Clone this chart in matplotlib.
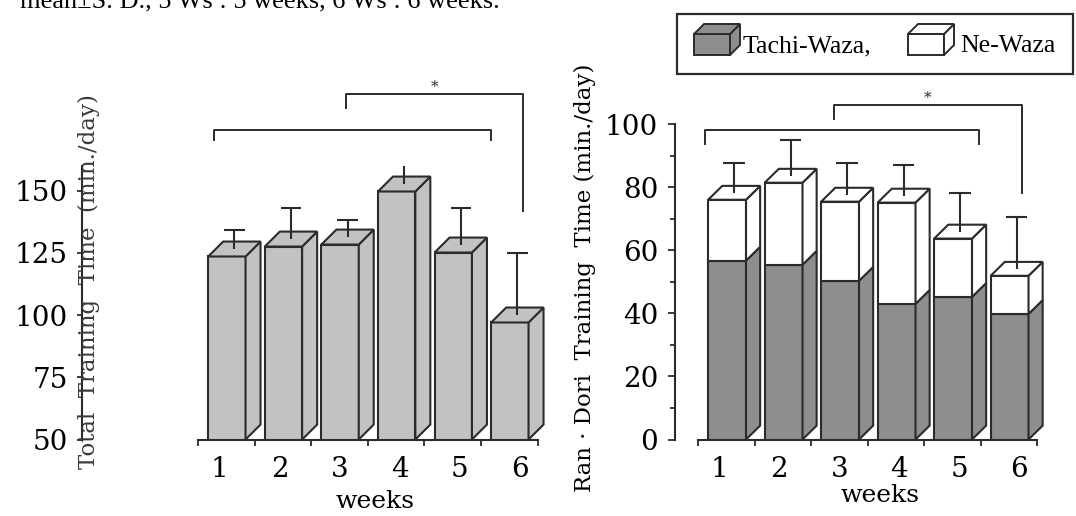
import numpy as np
import matplotlib.pyplot as plt
from matplotlib.patches import Polygon, Rectangle

weeks = ['1', '2', '3', '4', '5', '6']
total_mean = [123.5, 127.5, 128.3, 149.6, 125.1, 97.0]
total_sd = [10.8, 15.3, 9.7, 18.4, 17.9, 28.0]
tachi_waza = [56.7, 55.4, 50.3, 43.0, 45.2, 39.8]
ne_waza = [19.3, 26.0, 25.1, 32.1, 18.5, 12.1]
randori_sd = [11.5, 13.7, 12.1, 12.0, 14.5, 18.7]

EDGE = '#2b2b2b'
LIGHT = '#c2c2c2'
DARK = '#8e8e8e'
SERIF = 'DejaVu Serif'
W, H = 1076, 516


def faces(ax, x, w, lo, hi, dx, dy, color, top=True):
    # side and top faces of a pseudo-3d bar
    side = [(x + w, lo), (x + w + dx, lo + dy), (x + w + dx, hi + dy), (x + w, hi)]
    ax.add_patch(Polygon(side, closed=True, fc=color, ec=EDGE, lw=1.5, clip_on=False, zorder=3))
    if top:
        tp = [(x, hi), (x + dx, hi + dy), (x + w + dx, hi + dy), (x + w, hi)]
        ax.add_patch(Polygon(tp, closed=True, fc=color, ec=EDGE, lw=1.5, clip_on=False, zorder=3))


def bracket(ax, x0, x1, y, y0, y1, star=False):
    ax.plot([x0, x0, x1, x1], [y0, y, y, y1], color=EDGE, lw=1.4, clip_on=False, zorder=4)
    if star:
        ax.text((x0 + x1) / 2, y, '*', ha='center', va='bottom', fontsize=11,
                family=SERIF, color=EDGE)


def style_axes(ax, outward):
    ax.spines['left'].set_position(('outward', outward))
    for s in ['top', 'right']:
        ax.spines[s].set_visible(False)
    for s in ['bottom', 'left']:
        ax.spines[s].set_color(EDGE)
        ax.spines[s].set_linewidth(1.5)
    ax.set_xlim(-0.18, 5.82)
    ax.set_xticks(np.arange(6) * 1.06 + 0.2)
    ax.set_xticklabels(weeks, fontsize=20, family=SERIF)
    ax.set_xticks(np.arange(7) - 0.18, minor=True)
    ax.tick_params(axis='x', which='major', length=0, pad=12)
    ax.tick_params(axis='x', which='minor', direction='out', length=4.5, width=1.3, color=EDGE)


fig = plt.figure(figsize=(W / 100, H / 100), dpi=100)

# ---- left panel: total training time
ax1 = fig.add_axes([198 / W, 76.5 / H, 339.6 / W, 273.9 / H])
style_axes(ax1, 83.5)
x = np.arange(6)
w, dx, dy = 0.66, 0.265, 6.0
tm = np.array(total_mean)
ax1.bar(x, tm - 50, bottom=50, width=w, align='edge', color=LIGHT, edgecolor=EDGE, lw=1.5, zorder=3)
for i in range(6):
    faces(ax1, x[i], w, 50, tm[i], dx, dy, LIGHT)
cx = x + (w + dx) / 2
tops = tm + np.array(total_sd)
ax1.vlines(cx, tm + dy / 2, tops, color=EDGE, lw=1.5, zorder=4)
ax1.hlines(tops, cx - 0.18, cx + 0.18, color=EDGE, lw=1.5, zorder=4)
ax1.set_ylim(50, 160)
ax1.set_yticks([50, 75, 100, 125, 150])
ax1.set_yticklabels(['50', '75', '100', '125', '150'], fontsize=20, family=SERIF)
ax1.tick_params(axis='y', direction='out', length=3.6, width=1.3, pad=6.5, color=EDGE)
bracket(ax1, 0.1, 5.0, 174.3, 170.3, 170.3)
bracket(ax1, 2.44, 5.57, 188.8, 183.1, 141.8, star=True)

# ---- right panel: randori training time
ax2 = fig.add_axes([698 / W, 76.5 / H, 339 / W, 347 / H])
style_axes(ax2, 16.6)
w, dx, dy = 0.67, 0.25, 4.4
tw = np.array(tachi_waza)
nw = np.array(ne_waza)
tot = tw + nw
ax2.bar(x, tw, width=w, align='edge', color=DARK, edgecolor=EDGE, lw=1.5, zorder=3)
ax2.bar(x, nw, bottom=tw, width=w, align='edge', color='white', edgecolor=EDGE, lw=1.5, zorder=3)
for i in range(6):
    faces(ax2, x[i], w, 0, tw[i], dx, dy, DARK, top=False)
    faces(ax2, x[i], w, tw[i], tot[i], dx, dy, 'white')
cx = x + (w + dx) / 2
tops = tot + np.array(randori_sd)
ax2.vlines(cx, tot + dy / 2, tops, color=EDGE, lw=1.5, zorder=4)
ax2.hlines(tops, cx - 0.19, cx + 0.19, color=EDGE, lw=1.5, zorder=4)
ax2.set_ylim(0, 110)
ax2.spines['left'].set_bounds(0, 100)
ax2.set_yticks([0, 20, 40, 60, 80, 100])
ax2.set_yticklabels(['0', '20', '40', '60', '80', '100'], fontsize=20, family=SERIF)
ax2.set_yticks(np.arange(10, 100, 20), minor=True)
ax2.tick_params(axis='y', which='major', direction='out', length=5, width=1.3, pad=7, color=EDGE)
ax2.tick_params(axis='y', which='minor', direction='out', length=3.5, width=1.3, color=EDGE)
bracket(ax2, -0.05, 4.79, 98.1, 93.8, 93.8)
bracket(ax2, 2.22, 5.55, 106.0, 101.6, 78.1, star=True)

# ---- axis titles
fig.text(375 / W, 1 - 502 / H, 'weeks', ha='center', va='center', fontsize=18, family=SERIF)
fig.text(880 / W, 1 - 496 / H, 'weeks', ha='center', va='center', fontsize=18, family=SERIF)
fig.text(89 / W, 1 - 282 / H, 'Total  Training  Time  (min./day)', rotation=90,
         ha='center', va='center', fontsize=16.5, family=SERIF, color='#3a3a3a')
fig.text(585 / W, 1 - 278 / H, 'Ran · Dori  Training  Time (min./day)', rotation=90,
         ha='center', va='center', fontsize=16.5, family=SERIF)
fig.text(20 / W, 1 - 7 / H, 'mean±S. D., 5 Ws : 5 weeks, 6 Ws : 6 weeks.',
         ha='left', va='baseline', fontsize=19, family='Liberation Serif')

# ---- legend box (pixel coordinates)
lg = fig.add_axes([677 / W, 1 - 74 / H, 396 / W, 60 / H])
lg.set_xlim(677, 1073)
lg.set_ylim(74, 14)
lg.axis('off')
lg.add_patch(Rectangle((677, 14), 396, 60, fc='white', ec=EDGE, lw=1.6, clip_on=False))


def cube(ax, x0, color):
    fx0, fx1, fy0, fy1, d = x0, x0 + 36, 55, 34, 10
    ax.add_patch(Polygon([(fx0, fy0), (fx1, fy0), (fx1, fy1), (fx0, fy1)], fc=color, ec=EDGE, lw=1.4))
    ax.add_patch(Polygon([(fx1, fy0), (fx1 + d, fy0 - d), (fx1 + d, fy1 - d), (fx1, fy1)], fc=color, ec=EDGE, lw=1.4))
    ax.add_patch(Polygon([(fx0, fy1), (fx0 + d, fy1 - d), (fx1 + d, fy1 - d), (fx1, fy1)], fc=color, ec=EDGE, lw=1.4))


cube(lg, 694, DARK)
lg.text(743, 52, 'Tachi-Waza,', ha='left', va='baseline', fontsize=18.5, family='Liberation Serif')
cube(lg, 908, 'white')
lg.text(960, 52, 'Ne-Waza', ha='left', va='baseline', fontsize=18.5, family='Liberation Serif')

fig.savefig('out.png', dpi=100)
